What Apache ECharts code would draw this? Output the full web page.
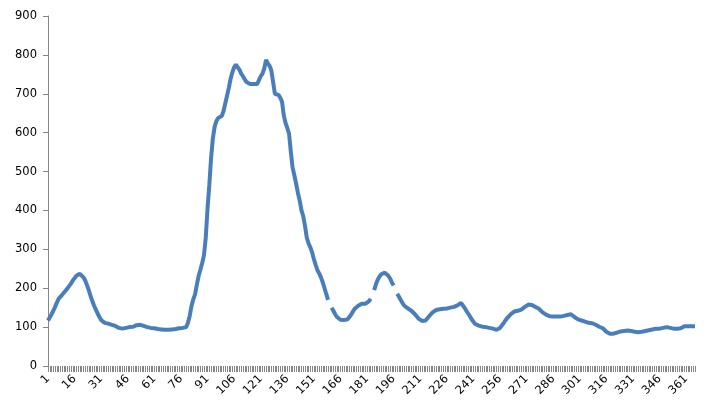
<!DOCTYPE html>
<html>
<head>
<meta charset="utf-8">
<script src="https://cdn.jsdelivr.net/npm/echarts@6/dist/echarts.min.js"></script>
<style>html,body{margin:0;padding:0;background:#fff;}#c{width:709px;height:411px;}</style>
</head>
<body>
<div id="c"></div>
<script>
const yTicks = [0, 100, 200, 300, 400, 500, 600, 700, 800, 900];
const days = [];
for (let d = 1; d <= 366; d++) days.push(String(d));
const values = [
117,125,133,142,152,163,173,178,183,188,194,200,206,212,220,226,232,236,237,234,
228,220,208,195,180,167,155,145,135,126,118,113,111,110,109,108,106,105,103,100,
98,97,96,97,98,99,100,100,101,103,105,106,106,105,103,101,100,99,98,97,
97,96,95,95,94,94,93,93,93,93,94,95,95,96,97,97,98,99,100,112,
130,155,172,185,210,232,248,265,285,330,405,465,535,585,615,630,638,642,643,655,
675,695,715,738,755,768,775,768,762,752,745,737,730,725,725,725,725,725,725,725,
745,752,765,787,778,772,760,730,700,698,697,690,680,645,625,612,597,550,510,490,
468,445,425,400,385,360,330,315,305,292,275,260,246,238,228,215,200,185,170,null,
150,142,133,126,121,119,118,118,118,120,126,132,140,147,151,155,158,160,160,160,
162,166,173,null,195,210,222,230,236,240,240,237,232,225,215,207,null,186,178,170,
162,155,151,148,145,142,138,133,128,122,118,116,116,117,122,128,133,138,142,144,
145,146,147,147,148,148,149,150,151,152,154,156,160,162,158,150,142,135,128,120,
114,108,105,104,103,101,100,100,99,98,97,96,94,93,95,98,103,110,117,123,
128,133,137,140,141,142,143,145,148,152,155,158,160,157,155,152,150,147,143,138,
135,132,130,128,127,127,127,127,127,127,128,129,130,131,133,133,130,126,122,120,
118,117,116,114,112,111,110,110,108,106,103,101,99,97,93,88,85,83,83,83,
83,86,88,89,90,90,91,91,90,90,89,88,87,87,87,88,89,90,91,92,
93,94,95,96,96,96,97,98,99,100,100,98,96,96,96,96,96,97,101,102,
102,102,102,102,102,102
];

const chart = echarts.init(document.getElementById('c'), null, {renderer: 'canvas'});
const font = 'DejaVu Sans';
chart.setOption({
  animation: false,
  backgroundColor: '#ffffff',
  grid: {left: 48, right: 14, top: 16, bottom: 45, containLabel: false},
  xAxis: {
    type: 'category',
    data: days,
    boundaryGap: false,
    axisLine: {show: false},
    axisTick: {show: true, interval: 0, length: 6, lineStyle: {color: '#868686', width: 1}},
    axisLabel: {interval: 14, rotate: 45, margin: 11, fontFamily: font, fontSize: 11.5, color: '#000'},
    splitLine: {show: false}
  },
  yAxis: {
    type: 'value',
    min: yTicks[0],
    max: yTicks[yTicks.length - 1],
    interval: 100,
    axisLine: {show: true, lineStyle: {color: '#868686', width: 1}},
    axisTick: {show: true, length: 5, lineStyle: {color: '#868686'}},
    axisLabel: {margin: 11, fontFamily: font, fontSize: 11.5, color: '#000'},
    splitLine: {show: false}
  },
  series: [{
    type: 'line',
    data: values,
    connectNulls: false,
    showSymbol: false,
    symbol: 'none',
    lineStyle: {color: '#4a7ebb', width: 4},
    itemStyle: {color: '#4a7ebb'}
  }]
});
</script>
</body>
</html>
